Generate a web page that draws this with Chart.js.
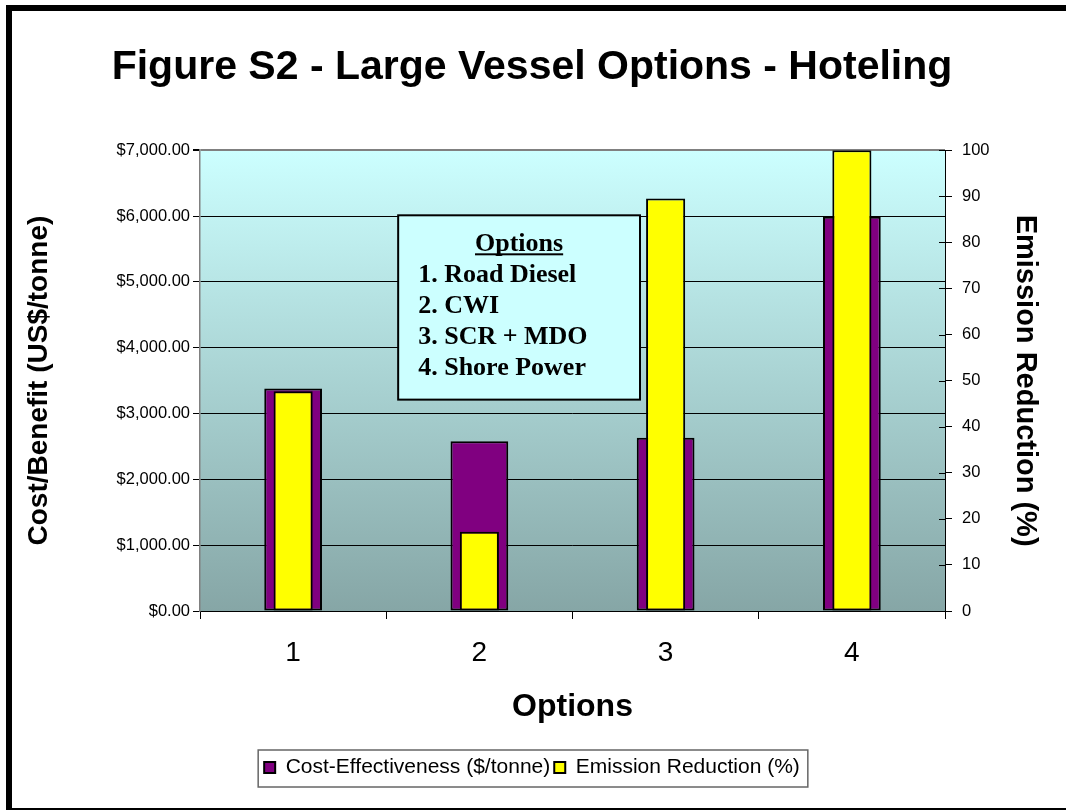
<!DOCTYPE html>
<html>
<head>
<meta charset="utf-8">
<script src="https://cdn.jsdelivr.net/npm/chart.js@4.4.0/dist/chart.umd.min.js"></script>
<style>
	html, body { margin: 0; padding: 0; background: #fff; overflow: hidden; }
	#frame { position: absolute; left: 6px; top: 5px; width: 1200px; height: 809px; border: 6px solid #000; box-sizing: border-box; }
	#myChart { position: absolute; left: 0; top: 0; }
</style>
</head>
<body>
<div id="frame"></div>
<canvas id="myChart" width="1066" height="810"></canvas>
<script>

// Data
var optionLabels      = ['1', '2', '3', '4'];
var costEffectiveness = [3380, 2580, 2630, 5990];
var emissionReduction = [47.7, 17.2, 89.5, 100];
var costTicks         = { min : 0, max : 7000, step : 1000 };
var reductionTicks    = { min : 0, max : 100,  step : 10 };
var boxLines          = ['1. Road Diesel', '2. CWI', '3. SCR + MDO', '4. Shore Power'];

var SANS  = "'Liberation Sans', Arial, sans-serif";
var SERIF = "'Liberation Serif', 'Times New Roman', serif";

// plot area gradient
var plotBackground = {
	id : 'plotBackground',
	beforeDraw : (chart) => {
		var ca = chart.chartArea, ctx = chart.ctx;
		var g = ctx.createLinearGradient(0, ca.top, 0, ca.bottom);
		g.addColorStop(0, '#ccffff');
		g.addColorStop(1, '#86a6a6');
		ctx.save();
		ctx.fillStyle = g;
		ctx.fillRect(ca.left, ca.top, ca.right - ca.left, ca.bottom - ca.top);
		ctx.restore();
	}
};

// inner half of the right axis ticks, legend frame, options text box
var extras = {
	id : 'extras',
	afterDraw : (chart) => {
		var ctx = chart.ctx, ca = chart.chartArea;
		var y1 = chart.scales.y1;
		ctx.save();
		ctx.strokeStyle = '#000';
		ctx.lineWidth = 1;
		y1.ticks.forEach((t) => {
			var y = Math.round(y1.getPixelForValue(t.value)) + 0.5;
			ctx.beginPath();
			ctx.moveTo(ca.right - 6, y);
			ctx.lineTo(ca.right, y);
			ctx.stroke();
		});

		// legend border
		var hb = chart.legend.legendHitBoxes;
		if (hb && hb.length) {
			var first = hb[0], last = hb[hb.length - 1];
			var lx = first.left - 6, rx = last.left + last.width + 8;
			var ty = first.top - 7, by = first.top + first.height + 9;
			ctx.strokeStyle = '#666';
			ctx.lineWidth = 1.5;
			ctx.strokeRect(lx, ty, rx - lx, by - ty);
		}

		// options box
		var w = ca.right - ca.left, h = ca.bottom - ca.top;
		var bx = ca.left + 0.266 * w, by2 = ca.top + 0.1413 * h;
		var bw = 0.3246 * w, bh = 0.4 * h;
		ctx.fillStyle = '#ccffff';
		ctx.fillRect(bx, by2, bw, bh);
		ctx.strokeStyle = '#000';
		ctx.lineWidth = 2;
		ctx.strokeRect(bx, by2, bw, bh);

		ctx.fillStyle = '#000';
		ctx.font = 'bold 26px ' + SERIF;
		ctx.textBaseline = 'alphabetic';
		ctx.textAlign = 'center';
		var cx = bx + bw / 2;
		ctx.fillText('Options', cx, by2 + 36);
		var tw = ctx.measureText('Options').width;
		ctx.fillRect(cx - tw / 2, by2 + 38, tw, 2);
		ctx.textAlign = 'left';
		boxLines.forEach((s, i) => {
			ctx.fillText(s, bx + 20, by2 + 67 + i * 31);
		});
		ctx.restore();
	}
};

var ctx = document.getElementById('myChart');
var myChart = new Chart(ctx, {
	type : 'bar',
	data : {
		labels : optionLabels,
		datasets : [{
			label           : 'Cost-Effectiveness ($/tonne)',
			data            : costEffectiveness,
			yAxisID         : 'y',
			backgroundColor : '#800080',
			borderColor     : '#000',
			borderWidth     : 2,
			borderSkipped   : false,
			barPercentage   : 0.31,
			order           : 1
		},{
			label           : 'Emission Reduction (%)',
			data            : emissionReduction,
			yAxisID         : 'y1',
			backgroundColor : '#ffff00',
			borderColor     : '#000',
			borderWidth     : 2,
			borderSkipped   : false,
			barPercentage   : 0.21,
			order           : 0
		}]
	},
	options : {
		responsive          : false,
		devicePixelRatio    : 1,
		animation           : false,
		datasets            : { bar : { grouped : false, categoryPercentage : 1 } },
		layout              : { padding : { left : 22, right : 24, top : 0, bottom : 22 } },
		plugins : {
			title : {
				display : true,
				text    : 'Figure S2 - Large Vessel Options - Hoteling',
				color   : '#000',
				font    : { family : SANS, size : 41, weight : 'bold' },
				padding : { top : 43, bottom : 58 }
			},
			legend : {
				position : 'bottom',
				labels : {
					color      : '#000',
					font       : { family : SANS, size : 21 },
					boxWidth   : 11,
					boxHeight  : 11,
					padding    : 4,
					sort       : (a, b) => a.datasetIndex - b.datasetIndex
				}
			},
			tooltip : { enabled : false }
		},
		scales : {
			x : {
				grid   : { offset : true, drawOnChartArea : false, tickLength : 8, tickColor : '#000' },
				border : { color : '#000', width : 1 },
				ticks  : { color : '#000', font : { family : SANS, size : 28 }, padding : 17 },
				title  : {
					display : true, text : 'Options', color : '#000',
					font    : { family : SANS, size : 32, weight : 'bold' },
					padding : { top : 0, bottom : 27 }
				},
				afterFit : (s) => { s.height = 142; }
			},
			y : {
				position : 'left',
				min      : costTicks.min,
				max      : costTicks.max,
				grid : {
					color     : (c) => c.tick && c.tick.value === costTicks.max ? '#808080' : '#000',
					lineWidth : (c) => c.tick && c.tick.value === costTicks.max ? 2 : 1,
					tickLength : 7,
					tickColor  : '#000'
				},
				border : { color : '#808080', width : 1.5 },
				ticks : {
					stepSize : costTicks.step,
					color    : '#000',
					padding  : 3,
					font     : { family : SANS, size : 16.5 },
					callback : (v) => '$' + Number(v).toLocaleString('en-US', { minimumFractionDigits : 2, maximumFractionDigits : 2 })
				},
				title : {
					display : true, text : 'Cost/Benefit (US$/tonne)', color : '#000',
					font    : { family : SANS, size : 28, weight : 'bold' },
					padding : { top : 0, bottom : 0 }
				},
				afterFit : (s) => { s.width = 178; }
			},
			y1 : {
				position : 'right',
				min      : reductionTicks.min,
				max      : reductionTicks.max,
				grid     : { drawOnChartArea : false, tickLength : 7, tickColor : '#000' },
				border   : { color : '#000', width : 1 },
				ticks : {
					stepSize : reductionTicks.step,
					color    : '#000',
					padding  : 10,
					font     : { family : SANS, size : 16.5 }
				},
				title : {
					display : true, text : 'Emission Reduction (%)', color : '#000',
					font    : { family : SANS, size : 29, weight : 'bold' },
					padding : { top : 0, bottom : 0 }
				},
				afterFit : (s) => { s.width = 97; }
			}
		}
	},
	plugins : [plotBackground, extras]
});
</script>
</body>
</html>
